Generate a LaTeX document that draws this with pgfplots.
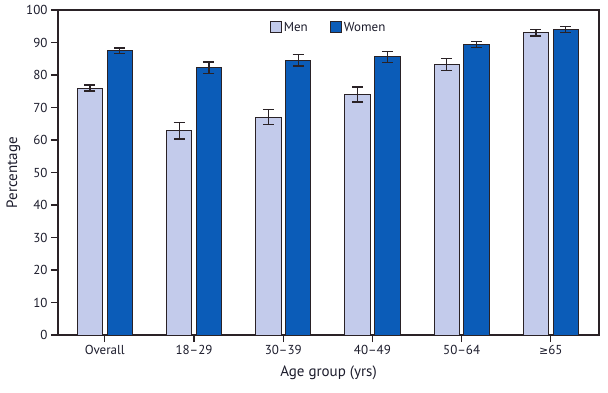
\documentclass[border=0pt]{standalone}
\usepackage{fontspec}
\setmainfont{PT Sans}
\newfontfamily\symfont{DejaVu Sans}
\usepackage{pgfplots}
\pgfplotsset{compat=1.18}
\definecolor{menc}{HTML}{C3CBEB}
\definecolor{womenc}{HTML}{0B5CB8}
\definecolor{edgec}{HTML}{2A2226}
\definecolor{txt}{HTML}{1C1C2C}
\begin{document}
\begin{tikzpicture}
\begin{axis}[
  scale only axis,
  width=541pt, height=325pt,
  xmin=-0.525, xmax=5.54,
  ymin=0, ymax=100,
  ytick={0,10,...,100},
  xtick={0,1,2,3,4,5},
  xticklabels={Overall,18–29,30–39,40–49,50–64,{{\symfont\fontsize{11}{13}\selectfont ≥}65}},
  xtick pos=bottom, ytick pos=left,
  tick align=outside,
  major tick length=7pt,
  axis line style={line width=1.3pt, color=edgec},
  tick style={line width=1.1pt, color=edgec},
  /pgf/number format/assume math mode=true,
  tick label style={font=\fontsize{13}{15}\selectfont, text=txt},
  ylabel={Percentage},
  xlabel={Age group (yrs)},
  label style={font=\fontsize{15}{17}\selectfont, text=txt},
  ylabel style={yshift=-1pt},
  xlabel style={yshift=-4pt},
  legend style={at={(0.5,0.975)}, anchor=north, draw=none, legend columns=2,
    font=\fontsize{13}{15}\selectfont, text=txt, /tikz/every even column/.append style={column sep=20pt}},
  ybar, bar width=0.285,
  error bars/y dir=both, error bars/y explicit,
  error bars/error bar style={line width=1.2pt, color=edgec},
  error bars/error mark options={rotate=90, mark size=5.5pt, line width=1.2pt, color=edgec},
  clip=false,
]
\addplot[fill=menc, draw=edgec, line width=1pt, bar shift=-0.167,
  legend image code/.code={\draw[fill=menc, draw=edgec, line width=1.2pt] (0pt,-5pt) rectangle (11pt,6pt);}] coordinates {
  (0,76.0) +- (0,0.9)
  (1,62.9) +- (0,2.6)
  (2,67.0) +- (0,2.3)
  (3,74.0) +- (0,2.3)
  (4,83.2) +- (0,1.8)
  (5,93.0) +- (0,1.0)
};
\addplot[fill=womenc, draw=edgec, line width=1pt, bar shift=0.167,
  legend image code/.code={\draw[fill=womenc, draw=edgec, line width=1.2pt] (0pt,-5pt) rectangle (11pt,6pt);}] coordinates {
  (0,87.5) +- (0,0.8)
  (1,82.2) +- (0,1.8)
  (2,84.5) +- (0,1.7)
  (3,85.6) +- (0,1.7)
  (4,89.3) +- (0,0.9)
  (5,94.0) +- (0,0.9)
};
\legend{Men,Women}
\coordinate (BL) at (rel axis cs:0,0);
\coordinate (TR) at (rel axis cs:1,1);
\end{axis}
\pgfresetboundingbox
\path ([xshift=-58pt,yshift=-57pt]BL) rectangle ([xshift=9pt,yshift=10pt]TR);
\end{tikzpicture}
\end{document}
